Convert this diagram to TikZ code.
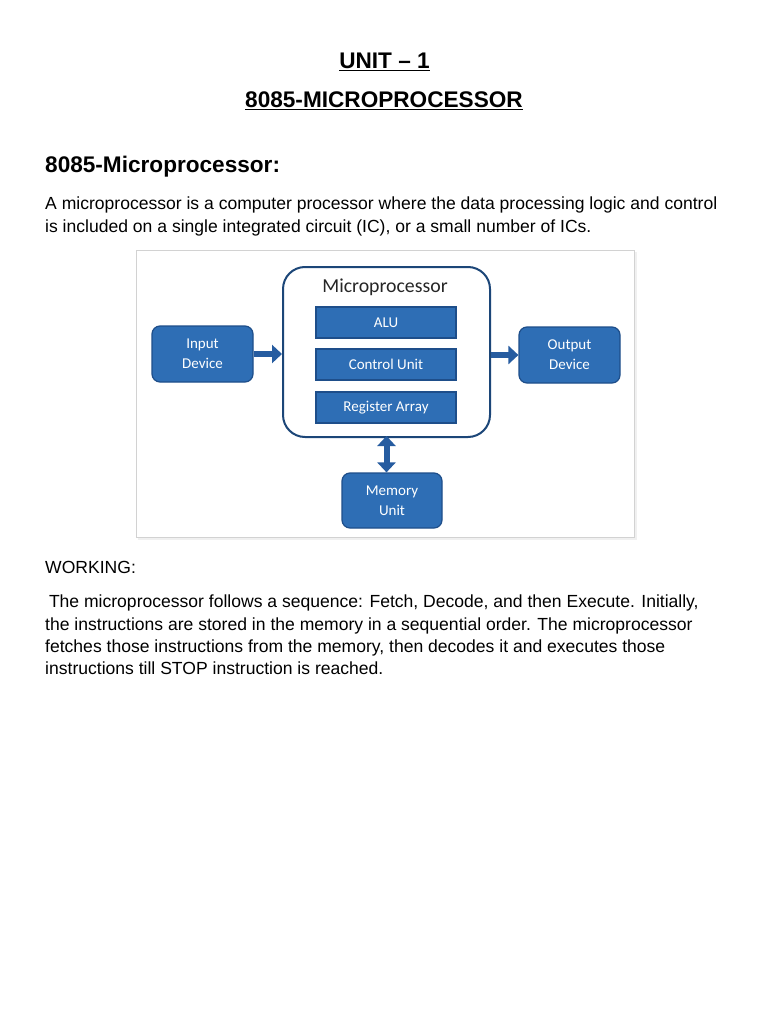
\documentclass[tikz,border=0pt]{standalone}
\usepackage{fontspec}
\setmainfont{Liberation Sans}
\newfontfamily\diagfont{Carlito}
\usetikzlibrary{arrows.meta}
\definecolor{boxblue}{RGB}{46,110,181}
\definecolor{edgeblue}{RGB}{30,78,138}
\definecolor{arrowblue}{RGB}{38,92,160}
\definecolor{darkedge}{RGB}{28,70,120}
\tikzset{
  bodyline/.style={anchor=base west, inner sep=0pt, font=\fontsize{17.55}{20}\selectfont},
  titleline/.style={anchor=base, inner sep=0pt, font=\fontsize{22.6}{26}\selectfont\bfseries},
  unitbox/.style={draw=edgeblue, line width=1.2pt, fill=boxblue, text=white, minimum width=140pt, minimum height=31pt, inner sep=0pt, font=\diagfont\fontsize{15}{17}\selectfont},
  devbox/.style={draw=edgeblue, line width=1.2pt, fill=boxblue, text=white, rounded corners=8pt, minimum width=101pt, minimum height=56pt, inner sep=0pt, align=center, font=\diagfont\fontsize{15}{20}\selectfont},
  cpubox/.style={draw=darkedge, line width=2pt, fill=white, rounded corners=22pt, minimum width=207pt, minimum height=170pt, inner sep=0pt},
  blockarrow/.style={draw=arrowblue, line width=6pt, -{Triangle[length=10pt,width=18pt]}},
  blockdarrow/.style={draw=arrowblue, line width=6pt, {Triangle[length=10pt,width=18pt]}-{Triangle[length=10pt,width=18pt]}}
}
\begin{document}
\begin{tikzpicture}[x=1pt,y=-1pt]
\useasboundingbox (0,0) rectangle (768,1024);
\fill[white] (0,0) rectangle (768,1024);

% titles
\node[titleline] (t1) at (384.5,69) {\underline{UNIT – 1}};
\node[titleline] (t2) at (384,108) {\underline{8085-MICROPROCESSOR}};
\node[anchor=base west, inner sep=0pt, font=\fontsize{22.6}{26}\selectfont\bfseries] (h1) at (45,173) {8085-Microprocessor:};

% intro paragraph
\node[bodyline] (p1a) at (45,210) {A microprocessor is a computer processor where the data processing logic and control};
\node[bodyline] (p1b) at (45,233) {is included on a single integrated circuit (IC), or a small number of ICs.};

% figure frame
\fill[gray!22] (139,253) rectangle (636,539);
\fill[gray!12] (138,252) rectangle (637,540);
\draw[gray!35, fill=white, line width=1pt] (136,250) rectangle (634,537);

% diagram
\node[cpubox] (cpu) at (386.5,352) {};
\node[anchor=center, inner sep=0pt, text=black!85, font=\diagfont\fontsize{19.8}{22}\selectfont] (cpulbl) at (385,287) {Microprocessor};
\node[unitbox] (alu) at (386,322.5) {ALU};
\node[unitbox] (cu) at (386,364.5) {Control Unit};
\node[unitbox] (ra) at (386,407.5) {Register Array};
\node[devbox] (in) at (202.5,354) {Input\\Device};
\node[devbox] (out) at (569.5,355) {Output\\Device};
\node[devbox, minimum width=100pt, minimum height=55pt] (mem) at (392,500.5) {Memory\\Unit};

\draw[blockarrow] (in.east) -- (cpu.west |- in.east);
\draw[blockarrow] (cpu.east |- out.west) -- (out.west);
\draw[blockdarrow] ([yshift=2pt]cpu.south) -- (cpu.south |- mem.north);

% working
\node[bodyline] (w) at (45,573) {WORKING:};
\node[bodyline] (w1) at (45,607) {\hspace{3.8pt}The microprocessor follows a sequence: Fetch, Decode, and then Execute. Initially,};
\node[bodyline] (w2) at (45,630) {the instructions are stored in the memory in a sequential order. The microprocessor};
\node[bodyline] (w3) at (45,652) {fetches those instructions from the memory, then decodes it and executes those};
\node[bodyline] (w4) at (45,674) {instructions till STOP instruction is reached.};
\end{tikzpicture}
\end{document}
